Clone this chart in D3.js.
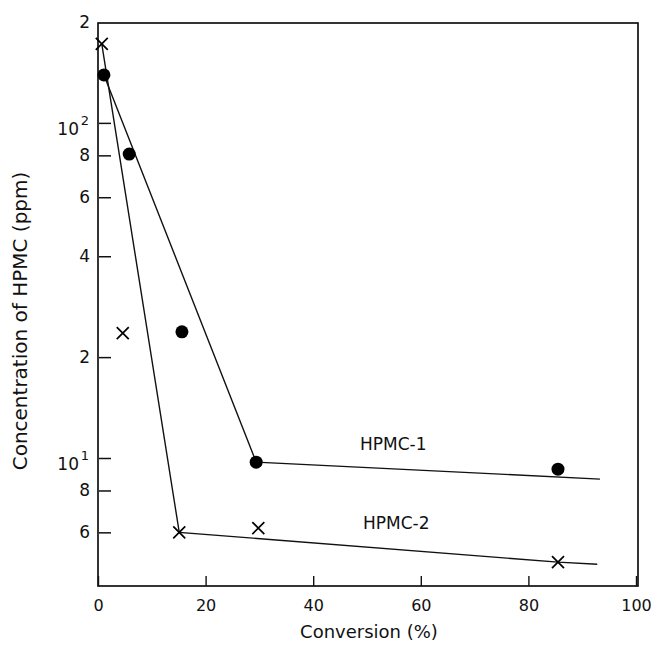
<!DOCTYPE html>
<html>
<head>
<meta charset="utf-8">
<script src="https://cdn.jsdelivr.net/npm/d3@7"></script>
<style>
  body { margin: 0; background: #fff; }
  text { font-family: "DejaVu Sans", sans-serif; fill: #111; }
</style>
</head>
<body>
<div id="chart"></div>
<script>
// HPMC-1 (filled circles)
var conv1 = [1.1, 5.8, 15.6, 29.4, 85.5];
var ppm1 = [139, 80.7, 23.8, 9.72, 9.26];
// HPMC-2 (crosses)
var conv2 = [0.7, 4.6, 15.1, 29.8, 85.5];
var ppm2 = [172, 23.6, 6.0, 6.18, 4.89];

// hand drawn trend lines
var line1X = [1.1, 29.4, 93.3];
var line1Y = [139, 9.72, 8.65];
var line2X = [0.7, 15.1, 85.5, 92.8];
var line2Y = [172, 6.0, 4.89, 4.82];

var xTicks = [0, 20, 40, 60, 80, 100];
var yTicks = [200, 100, 80, 60, 40, 20, 10, 8, 6];
var yTickText = ["2", "10", "8", "6", "4", "2", "10", "8", "6"];
var yTickSup = ["", "2", "", "", "", "", "1", "", ""];

var svg = d3.select("#chart")
            .append("svg")
            .attr("width", 651)
            .attr("height", 649);

var x = d3.scaleLinear().domain([0, 100]).range([98, 636]);
var y = d3.scaleLog().domain([4.15, 200]).range([586, 22]);

// frame
svg.append("rect")
   .attr("x", 98)
   .attr("y", 23)
   .attr("width", 540)
   .attr("height", 563)
   .attr("fill", "none")
   .attr("stroke", "#111")
   .attr("stroke-width", 1.7);

// x axis, ticks pointing inward
var xAxis = svg.append("g")
   .attr("transform", "translate(0,586)")
   .call(d3.axisBottom(x).tickValues(xTicks).tickSize(-10).tickPadding(14));
xAxis.select(".domain").remove();
xAxis.selectAll("line").attr("stroke", "#111").attr("stroke-width", 1.4);
xAxis.selectAll("text")
     .style("font-family", "DejaVu Sans")
     .style("font-size", "16px")
     .attr("fill", "#111");

// y axis, ticks pointing inward, labels drawn separately
var yAxis = svg.append("g")
   .attr("transform", "translate(99,0)")
   .call(d3.axisLeft(y).tickValues(yTicks.slice(1)).tickSize(-12).tickFormat(""));
yAxis.select(".domain").remove();
yAxis.selectAll("line").attr("stroke", "#111").attr("stroke-width", 1.5);

yTicks.forEach(function(v, i){
  var ty = y(v);
  if (yTickSup[i] === "") {
    svg.append("text")
       .attr("x", 90)
       .attr("y", ty + 6)
       .attr("text-anchor", "end")
       .style("font-size", "17px")
       .text(yTickText[i]);
  } else {
    svg.append("text")
       .attr("x", 79)
       .attr("y", ty + 12)
       .attr("text-anchor", "end")
       .style("font-size", "17px")
       .text(yTickText[i]);
    svg.append("text")
       .attr("x", 89)
       .attr("y", ty + 2)
       .attr("text-anchor", "end")
       .style("font-size", "13px")
       .text(yTickSup[i]);
  }
});

// axis titles
svg.append("text")
   .attr("x", 369)
   .attr("y", 638)
   .attr("text-anchor", "middle")
   .style("font-size", "18px")
   .text("Conversion (%)");

svg.append("text")
   .attr("transform", "translate(27,321) rotate(-90)")
   .attr("text-anchor", "middle")
   .style("font-size", "20px")
   .text("Concentration of HPMC (ppm)");

// trend lines
var line = d3.line()
             .x(function(d){ return x(d[0]); })
             .y(function(d){ return y(d[1]); });

svg.append("path")
   .attr("d", line(d3.zip(line1X, line1Y)))
   .attr("fill", "none")
   .attr("stroke", "#111")
   .attr("stroke-width", 1.4);

svg.append("path")
   .attr("d", line(d3.zip(line2X, line2Y)))
   .attr("fill", "none")
   .attr("stroke", "#111")
   .attr("stroke-width", 1.4);

// HPMC-1 points
svg.selectAll("circle.p1")
   .data(d3.zip(conv1, ppm1))
   .enter()
   .append("circle")
   .attr("class", "p1")
   .attr("cx", function(d){ return x(d[0]); })
   .attr("cy", function(d){ return y(d[1]); })
   .attr("r", 6.5)
   .attr("fill", "#000");

// HPMC-2 points
var s = 6;
svg.selectAll("path.p2")
   .data(d3.zip(conv2, ppm2))
   .enter()
   .append("path")
   .attr("class", "p2")
   .attr("d", function(d){
     var cx = x(d[0]), cy = y(d[1]);
     return "M" + (cx - s) + "," + (cy - s) + "L" + (cx + s) + "," + (cy + s) +
            "M" + (cx - s) + "," + (cy + s) + "L" + (cx + s) + "," + (cy - s);
   })
   .attr("fill", "none")
   .attr("stroke", "#000")
   .attr("stroke-width", 1.7);

// series labels
svg.append("text")
   .attr("x", 360)
   .attr("y", 450)
   .style("font-size", "17px")
   .text("HPMC-1");

svg.append("text")
   .attr("x", 363)
   .attr("y", 529)
   .style("font-size", "17px")
   .text("HPMC-2");
</script>
</body>
</html>
